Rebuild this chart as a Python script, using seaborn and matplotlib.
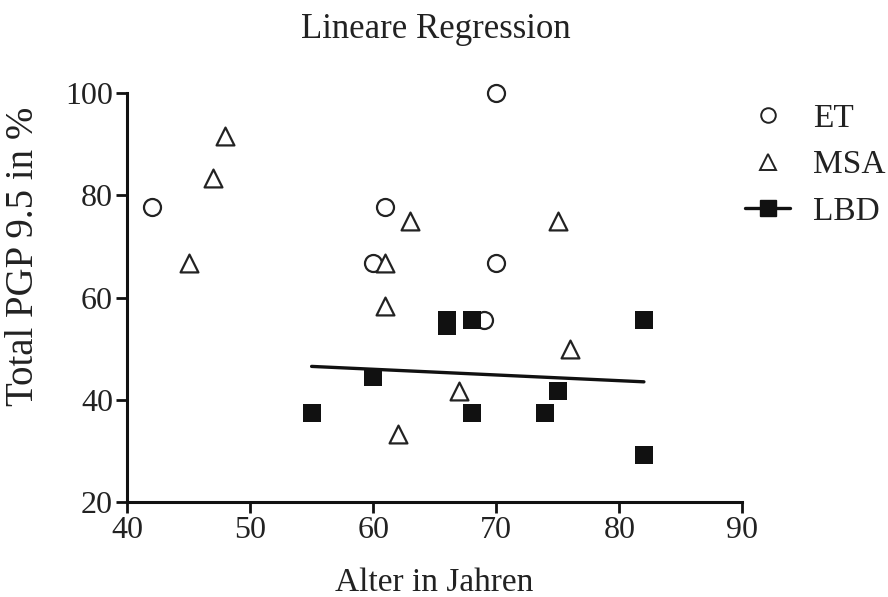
import matplotlib
matplotlib.use("Agg")
import matplotlib.pyplot as plt
from matplotlib.lines import Line2D
import seaborn as sns
import pandas as pd

et_age = [42, 60, 61, 69, 70, 70]
et_pgp = [77.8, 66.7, 77.8, 55.6, 100.0, 66.7]

msa_age = [45, 47, 48, 61, 61, 62, 63, 67, 75, 76]
msa_pgp = [66.7, 83.3, 91.7, 66.7, 58.3, 33.3, 75.0, 41.7, 75.0, 50.0]

lbd_age = [55, 60, 66, 66, 68, 68, 74, 75, 82, 82]
lbd_pgp = [37.5, 44.4, 55.6, 54.5, 55.6, 37.5, 37.5, 41.7, 55.6, 29.2]

groups = ["ET", "MSA", "LBD"]
x_ticks = [40, 50, 60, 70, 80, 90]
y_ticks = [20, 40, 60, 80, 100]

sns.set_style("ticks")
plt.rcParams["font.family"] = ["Liberation Serif", "DejaVu Serif"]

df_et = pd.DataFrame({"age": et_age, "pgp": et_pgp})
df_msa = pd.DataFrame({"age": msa_age, "pgp": msa_pgp})
df_lbd = pd.DataFrame({"age": lbd_age, "pgp": lbd_pgp})

fig = plt.figure(figsize=(8.88, 5.97), dpi=100)
ax = fig.add_axes([0.143, 0.159, 0.693, 0.685])

ms = 150
sns.scatterplot(data=df_et, x="age", y="pgp", ax=ax, marker="o", s=ms,
                facecolor="white", edgecolor="#222222", linewidth=1.6,
                zorder=3, clip_on=False)
sns.scatterplot(data=df_msa, x="age", y="pgp", ax=ax, marker="^", s=ms * 1.1,
                facecolor="white", edgecolor="#222222", linewidth=1.6,
                zorder=3, clip_on=False)
sns.regplot(data=df_lbd, x="age", y="pgp", ax=ax, ci=None, truncate=True,
            marker="s", color="#111111",
            scatter_kws={"s": 150, "linewidths": 0, "zorder": 4, "alpha": 1,
                         "clip_on": False},
            line_kws={"linewidth": 2.4, "color": "#111111", "zorder": 2})

ax.set_xlim(40, 90)
ax.set_ylim(20, 100)
ax.set_xticks(x_ticks)
ax.set_yticks(y_ticks)
ax.tick_params(axis="both", labelsize=23, width=2.0, length=8, color="#111111",
               labelcolor="#222222", direction="out", pad=2)
for s in ["top", "right"]:
    ax.spines[s].set_visible(False)
for s in ["left", "bottom"]:
    ax.spines[s].set_linewidth(2.2)
    ax.spines[s].set_color("#111111")

ax.set_xlabel("Alter in Jahren", fontsize=24, color="#222222", labelpad=16)
ax.set_ylabel("Total PGP 9.5 in %", fontsize=28, color="#222222")
ax.yaxis.set_label_coords(-0.138, 0.6)
fig.text(0.491, 0.951, "Lineare Regression", ha="center", va="center",
         fontsize=25, color="#222222")

handles = [
    Line2D([], [], marker="o", linestyle="none", markersize=10.5,
           markerfacecolor="white", markeredgecolor="#222222", markeredgewidth=1.4),
    Line2D([], [], marker="^", linestyle="none", markersize=11,
           markerfacecolor="white", markeredgecolor="#222222", markeredgewidth=1.4),
    Line2D([], [], marker="s", linestyle="-", linewidth=2.4, markersize=12,
           color="#111111"),
]
fig.legend(handles, groups, loc="upper left", bbox_to_anchor=(0.839, 0.827),
           frameon=False, fontsize=24, handlelength=1.35, handletextpad=0.7,
           labelspacing=0.48, borderpad=0, borderaxespad=0,
           labelcolor="#222222")

fig.savefig("out.png", dpi=100)
